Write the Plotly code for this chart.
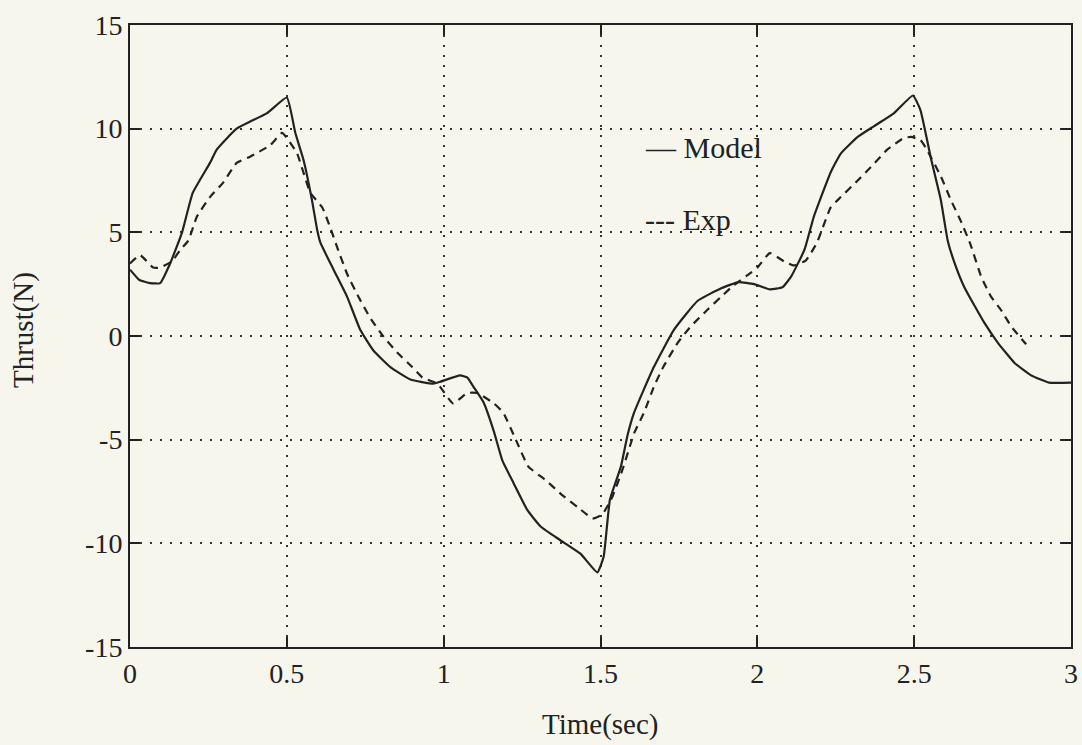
import plotly.graph_objects as go

# Model (solid) curve
model_t = [0.0, 0.03, 0.064, 0.096, 0.128, 0.166, 0.2, 0.255, 0.277, 0.34, 0.437, 0.50,
           0.527, 0.553, 0.58, 0.597, 0.607, 0.649, 0.692, 0.734, 0.776, 0.83, 0.894,
           0.967, 0.99, 1.053, 1.075, 1.095, 1.127, 1.16, 1.187, 1.223, 1.267, 1.31,
           1.372, 1.436, 1.49, 1.51, 1.53, 1.565, 1.586, 1.607, 1.67, 1.734, 1.81,
           1.885, 1.94, 1.99, 2.04, 2.08, 2.107, 2.15, 2.18, 2.234, 2.266, 2.32, 2.37,
           2.436, 2.496, 2.52, 2.553, 2.585, 2.607, 2.627, 2.66, 2.724, 2.767, 2.82,
           2.873, 2.93, 3.0]
model_v = [3.2, 2.7, 2.55, 2.55, 3.5, 5.0, 6.9, 8.35, 9.0, 10.0, 10.75, 11.5,
           9.8, 8.5, 6.56, 5.1, 4.5, 3.2, 1.9, 0.3, -0.7, -1.5, -2.1,
           -2.3, -2.2, -1.9, -2.0, -2.45, -3.2, -4.6, -6.0, -7.1, -8.4, -9.2,
           -9.85, -10.5, -11.4, -10.65, -7.9, -6.3, -4.8, -3.7, -1.5, 0.3, 1.7,
           2.3, 2.6, 2.5, 2.25, 2.35, 2.85, 4.15, 5.75, 7.9, 8.8, 9.6, 10.1,
           10.75, 11.6, 10.9, 8.6, 6.56, 4.6, 3.6, 2.35, 0.63, -0.33, -1.3,
           -1.9, -2.25, -2.25]

# Experimental (dashed) curve
exp_t = [0.0, 0.032, 0.074, 0.096, 0.134, 0.16, 0.186, 0.213, 0.255, 0.297, 0.34, 0.383,
         0.447, 0.485, 0.505, 0.533, 0.575, 0.613, 0.638, 0.66, 0.692, 0.728, 0.766,
         0.804, 0.852, 0.9, 0.932, 0.98, 1.03, 1.075, 1.107, 1.16, 1.19, 1.23, 1.27,
         1.325, 1.38, 1.427, 1.475, 1.506, 1.538, 1.57, 1.59, 1.607, 1.64, 1.67, 1.70,
         1.745, 1.787, 1.84, 1.885, 1.925, 1.97, 2.0, 2.04, 2.085, 2.117, 2.155, 2.19,
         2.234, 2.266, 2.32, 2.362, 2.415, 2.467, 2.49, 2.52, 2.54, 2.585, 2.617, 2.65,
         2.68, 2.714, 2.745, 2.777, 2.81, 2.857]
exp_v = [3.5, 3.9, 3.3, 3.3, 3.6, 4.15, 4.6, 5.75, 6.7, 7.4, 8.35, 8.65,
         9.2, 9.8, 9.45, 8.8, 6.9, 6.2, 5.25, 4.3, 3.0, 1.9, 0.87,
         0.05, -0.8, -1.5, -2.0, -2.3, -3.25, -2.75, -2.75, -3.25, -3.7, -5.0, -6.3,
         -6.95, -7.7, -8.25, -8.8, -8.6, -7.75, -6.45, -5.5, -4.7, -3.65, -2.45, -1.5,
         -0.35, 0.45, 1.25, 1.9, 2.45, 2.95, 3.3, 4.0, 3.6, 3.4, 3.65, 4.5,
         6.2, 6.7, 7.5, 8.15, 9.0, 9.55, 9.6, 9.45, 9.0, 7.7, 6.56, 5.5,
         4.4, 2.85, 1.9, 1.25, 0.45, -0.4]

x_ticks = [0, 0.5, 1, 1.5, 2, 2.5, 3]
x_tick_text = ["0", "0.5", "1", "1.5", "2", "2.5", "3"]
y_ticks = [15, 10, 5, 0, -5, -10, -15]
y_tick_text = ["15", "10", "5", "0", "-5", "-10", "-15"]

ink = "#222222"
bg = "#f6f6ec"
serif = "Liberation Serif, Times New Roman, serif"

fig = go.Figure()
fig.add_trace(go.Scatter(x=model_t, y=model_v, mode="lines", name="Model",
                         line=dict(color=ink, width=2.2, shape="spline", smoothing=0.4)))
fig.add_trace(go.Scatter(x=exp_t, y=exp_v, mode="lines", name="Exp",
                         line=dict(color=ink, width=2.2, dash="8px,6px",
                                   shape="spline", smoothing=0.4)))

axis_common = dict(
    showline=True, linecolor=ink, linewidth=2, mirror="ticks",
    ticks="inside", ticklen=10, tickwidth=1.5, tickcolor=ink,
    showgrid=True, gridcolor="#333333", gridwidth=1.6, griddash="2px,8px",
    zeroline=False, automargin=False,
    tickfont=dict(family=serif, size=28, color=ink),
)

fig.update_layout(
    width=1082, height=745,
    margin=dict(l=130, r=11, t=25, b=98),
    paper_bgcolor=bg, plot_bgcolor=bg,
    showlegend=False,
    xaxis=dict(range=[0, 3], tickvals=x_ticks, ticktext=x_tick_text, **axis_common),
    yaxis=dict(range=[-15, 15], tickvals=y_ticks, ticktext=y_tick_text, **axis_common),
    annotations=[
        dict(text="Time(sec)", xref="paper", yref="paper", x=0.5, y=0,
             xanchor="center", yanchor="middle", yshift=-77, showarrow=False,
             font=dict(family=serif, size=29, color=ink)),
        dict(text="Thrust(N)", xref="paper", yref="paper", x=0, y=0.5,
             xanchor="center", yanchor="middle", xshift=-107, yshift=6,
             textangle=-90, showarrow=False,
             font=dict(family=serif, size=29, color=ink)),
        dict(text="— Model", xref="x", yref="y", x=1.636, y=9.1,
             xanchor="left", yanchor="middle", showarrow=False,
             font=dict(family=serif, size=30, color=ink)),
        dict(text="--- Exp", xref="x", yref="y", x=1.636, y=5.6,
             xanchor="left", yanchor="middle", showarrow=False,
             font=dict(family=serif, size=30, color=ink)),
    ],
)

fig.write_html(
    "out.html",
    config={"displayModeBar": False},
    post_script="document.body.style.margin='0';document.body.style.padding='0';"
                "document.body.style.background='" + bg + "';"
                "document.documentElement.style.overflow='hidden';",
)
